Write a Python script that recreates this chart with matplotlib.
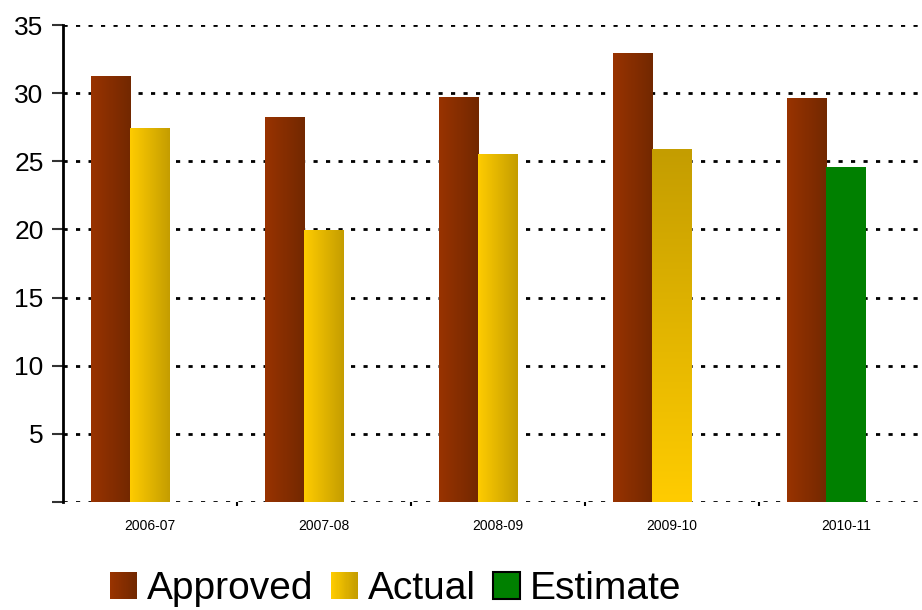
"""Approved vs actual spending by fiscal year, grouped bars with gradient fills."""

import matplotlib

matplotlib.use("Agg")
import matplotlib.pyplot as plt
import numpy as np
from matplotlib.colors import LinearSegmentedColormap
from matplotlib.legend_handler import HandlerBase
from matplotlib.patches import Patch, Rectangle

plt.rcParams["font.family"] = ["Liberation Sans", "DejaVu Sans"]
plt.rcParams["lines.scale_dashes"] = False

years = ["2006-07", "2007-08", "2008-09", "2009-10", "2010-11"]
approved = [31.2, 28.2, 29.7, 32.9, 29.6]
actual = [27.4, 19.9, 25.5, 25.9, None]
estimate = [None, None, None, None, 24.6]

# (left colour, right colour) for horizontal gradients
APPROVED_GRAD = ("#993300", "#722800")
ACTUAL_GRAD = ("#ffcc00", "#c49d00")
ESTIMATE_COLOR = "#008000"

BAR_W = 0.225


def gradient_fill(ax, patch, c0, c1, vertical=False):
    x0, y0 = patch.get_x(), patch.get_y()
    w, h = patch.get_width(), patch.get_height()
    cmap = LinearSegmentedColormap.from_list("g", [c0, c1])
    grad = np.linspace(0, 1, 256)
    grad = grad.reshape(-1, 1) if vertical else grad.reshape(1, -1)
    ax.imshow(grad, cmap=cmap, extent=[x0, x0 + w, y0, y0 + h],
              origin="upper" if vertical else "lower",
              aspect="auto", interpolation="bicubic", zorder=patch.get_zorder())
    patch.set_visible(False)


class GradientHandler(HandlerBase):
    def __init__(self, c0, c1, n=24):
        super().__init__()
        self.c0, self.c1, self.n = c0, c1, n

    def create_artists(self, legend, orig_handle, xdescent, ydescent,
                       width, height, fontsize, trans):
        cmap = LinearSegmentedColormap.from_list("g", [self.c0, self.c1])
        step = width / self.n
        arts = []
        for i in range(self.n):
            arts.append(Rectangle((-xdescent + i * step, -ydescent), step * 1.05, height,
                                  facecolor=cmap(i / (self.n - 1)), edgecolor="none",
                                  transform=trans))
        return arts


fig = plt.figure(figsize=(9.22, 6.10), dpi=100)
ax = fig.add_axes([0.0683, 0.177, 1 - 0.0683, 0.782])

x = np.arange(len(years))

for i, v in enumerate(approved):
    bar = ax.bar(x[i] - BAR_W, v, width=BAR_W * 1.01, zorder=3)[0]
    gradient_fill(ax, bar, *APPROVED_GRAD)

for i, v in enumerate(actual):
    if v is None:
        continue
    bar = ax.bar(x[i], v, width=BAR_W, zorder=3)[0]
    if years[i] == "2009-10":
        gradient_fill(ax, bar, ACTUAL_GRAD[1], ACTUAL_GRAD[0], vertical=True)
    else:
        gradient_fill(ax, bar, *ACTUAL_GRAD)

for i, v in enumerate(estimate):
    if v is None:
        continue
    ax.bar(x[i], v, width=BAR_W, color=ESTIMATE_COLOR, zorder=3)

ax.set_xlim(-0.5, -0.5 + 859 / 174)
ax.set_ylim(0, 35)

# dotted gridlines, including the baseline
for yv in range(0, 36, 5):
    ax.axhline(yv, color="black", lw=2, linestyle=(0, (3, 6)), zorder=1)

for side in ("top", "right", "bottom"):
    ax.spines[side].set_visible(False)
ax.spines["left"].set_linewidth(2)
ax.spines["left"].set_zorder(4)

ax.set_yticks(range(0, 36, 5))
ax.set_yticklabels([""] + [str(v) for v in range(5, 36, 5)])
ax.tick_params(axis="y", direction="out", length=8, width=1.5, color="#333333",
               labelsize=19, pad=6)

ax.set_xticks(x)
ax.set_xticklabels(years)
ax.set_xticks(x[:-1] + 0.5, minor=True)
ax.tick_params(axis="x", which="major", length=0, labelsize=10, pad=12)
ax.tick_params(axis="x", which="minor", length=3, width=1.5, direction="out")

handles = [Patch(label="Approved"), Patch(label="Actual"),
           Patch(facecolor=ESTIMATE_COLOR, edgecolor="black", linewidth=1.5,
                 label="Estimate")]
fig.legend(handles=handles, loc="center", bbox_to_anchor=(0.429, 0.034), ncol=3,
           frameon=False, fontsize=28, handlelength=0.7, handleheight=0.7,
           handletextpad=0.25, columnspacing=0.45, borderpad=0.2,
           handler_map={handles[0]: GradientHandler(*APPROVED_GRAD),
                        handles[1]: GradientHandler(*ACTUAL_GRAD)})

fig.savefig("out.png", dpi=100)
